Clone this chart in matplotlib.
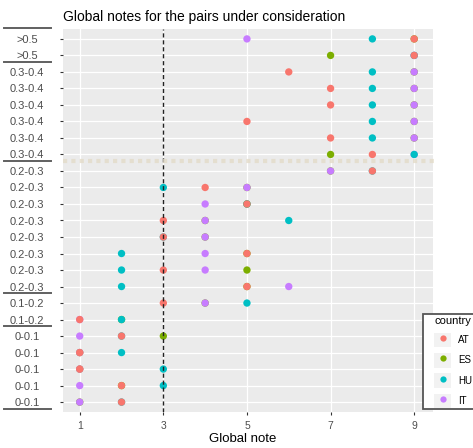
import numpy as np
import matplotlib.pyplot as plt
from matplotlib.lines import Line2D
from matplotlib.patches import Rectangle
from matplotlib.transforms import blended_transform_factory

plt.rcParams['font.family'] = ['Liberation Sans', 'DejaVu Sans']

# Row labels, top to bottom
row_labels = ['>0.5', '>0.5',
              '0.3-0.4', '0.3-0.4', '0.3-0.4', '0.3-0.4', '0.3-0.4', '0.3-0.4',
              '0.2-0.3', '0.2-0.3', '0.2-0.3', '0.2-0.3', '0.2-0.3', '0.2-0.3',
              '0.2-0.3', '0.2-0.3',
              '0.1-0.2', '0.1-0.2',
              '0-0.1', '0-0.1', '0-0.1', '0-0.1', '0-0.1']

# Global note per row (top to bottom) for each country
at_note = [9, 9, 6, 7, 7, 5, 7, 8, 8, 4, 5, 3, 3, 5, 3, 5, 3, 1, 2, 1, 1, 2, 2]
es_note = [9, 7, 9, 9, 9, 9, 9, 7, 7, 5, 5, 4, 4, 5, 5, 5, 4, 2, 3, 1, 1, 2, 1]
hu_note = [8, 9, 8, 8, 8, 8, 8, 9, 8, 3, 5, 6, 3, 2, 2, 2, 5, 2, 2, 2, 3, 3, 2]
it_note = [5, 9, 9, 9, 9, 9, 9, 9, 7, 5, 4, 4, 4, 4, 4, 6, 4, 1, 1, 1, 1, 1, 1]

countries = ['AT', 'ES', 'HU', 'IT']
colors = {'AT': '#F8766D', 'ES': '#7CAE00', 'HU': '#00BFC4', 'IT': '#C77CFF'}
notes = {'AT': at_note, 'ES': es_note, 'HU': hu_note, 'IT': it_note}

# group boundaries (rows index from bottom) for the label underlines
sep_lines = [22.68, 20.6, 14.6, 6.6, 4.6, -0.4]
threshold = 14.6

n = len(row_labels)
ypos = np.arange(n)[::-1]  # top row gets highest index

fig = plt.figure(figsize=(4.73, 4.48), dpi=100)
ax = fig.add_axes([63/473, 1-412/448, 370/473, 383/448])
ax.set_facecolor('#EBEBEB')
for s in ax.spines.values():
    s.set_visible(False)

ax.set_xlim(0.6, 9.45)
ax.set_ylim(-0.6, n - 1 + 0.6)
ax.set_xticks([1, 3, 5, 7, 9])
ax.set_yticks(ypos)
ax.set_yticklabels(row_labels)
ax.grid(True, color='white', linewidth=0.9)
ax.set_axisbelow(True)
ax.tick_params(axis='both', length=2.5, color='#333333', labelcolor='#4D4D4D', labelsize=7.5)
ax.tick_params(axis='y', pad=23.5, labelsize=8)
ax.tick_params(axis='x', pad=4)
for lab in ax.get_yticklabels():
    lab.set_horizontalalignment('center')

# draw order: ES, IT, HU, AT
for c in ['ES', 'IT', 'HU', 'AT']:
    ax.scatter(notes[c], ypos, s=28, color=colors[c], edgecolors='none', zorder=3)

ax.axvline(3, color='#222222', linewidth=1, dashes=(3, 2), zorder=4)
ax.axhline(threshold, xmin=0, xmax=1.01, color='#E3DBC8', linewidth=3, dashes=(1, 1),
           alpha=0.8, zorder=4, clip_on=False)

# underlines next to the row labels
tr = blended_transform_factory(fig.transFigure, ax.transData)
for y in sep_lines:
    ax.plot([4/473, 51/473], [y, y], transform=tr, clip_on=False,
            color='#606060', linewidth=1.4)

fig.text(63/473, 1-17/448, 'Global notes for the pairs under consideration',
         fontsize=10, va='center', ha='left', color='black')
fig.text(243/473, 1-439/448, 'Global note', fontsize=9.5, va='center', ha='center')

# legend
box = Rectangle((423/473, 1-409/448), 60/473, 95/448, transform=fig.transFigure,
                facecolor='white', edgecolor='#555555', linewidth=1.3, zorder=3)
fig.add_artist(box)
handles = []
for c in countries:
    bg = Rectangle((0, 0), 1, 1, facecolor='#F2F2F2', edgecolor='none')
    dot = Line2D([], [], marker='o', linestyle='none', markersize=4.5,
                 markerfacecolor=colors[c], markeredgecolor='none')
    handles.append((bg, dot))
leg = fig.legend(handles, countries, loc='upper left',
                 bbox_to_anchor=(434/473, 1-316/448), bbox_transform=fig.transFigure,
                 frameon=False, borderpad=0, borderaxespad=0, title='country',
                 title_fontsize=8, fontsize=7, handlelength=1.75, handleheight=1.9,
                 labelspacing=0.6, handletextpad=0.7, alignment='left')
leg._legend_box.sep = 5
leg.set_zorder(5)

fig.savefig('out.png', dpi=100)
